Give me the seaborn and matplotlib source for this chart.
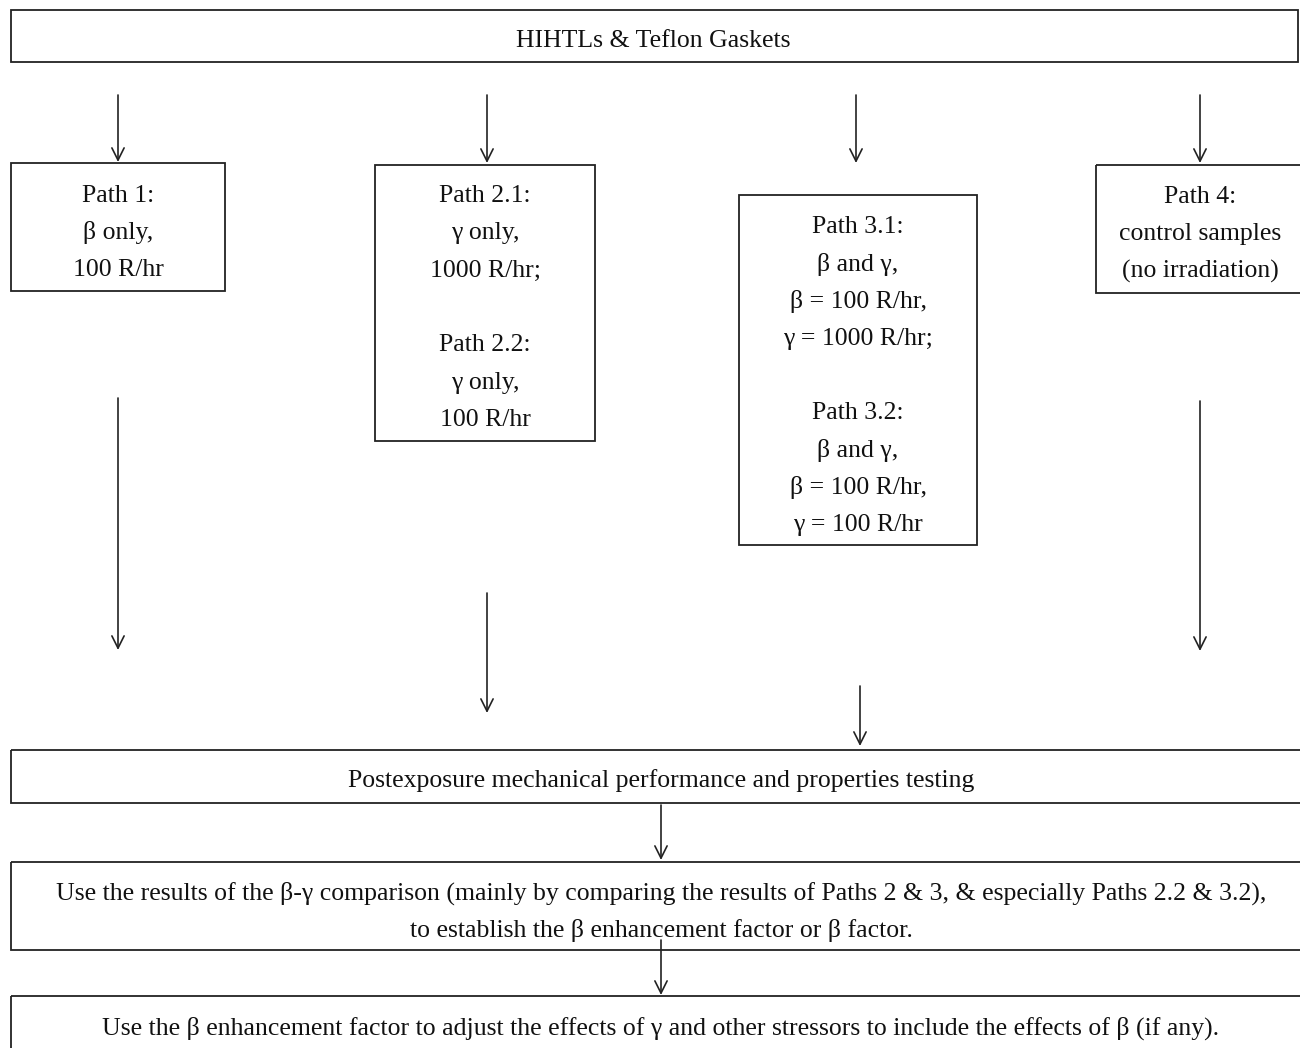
import numpy as np
import seaborn as sns
import matplotlib
matplotlib.use('Agg')
import matplotlib.pyplot as plt
from matplotlib.patches import Rectangle

# box texts (one entry per line, '' = blank line)
top_text = ['HIHTLs & Teflon Gaskets']
path1_text = ['Path 1:', 'β only,', '100 R/hr']
path2_text = ['Path 2.1:', 'γ only,', '1000 R/hr;', '', 'Path 2.2:', 'γ only,', '100 R/hr']
path3_text = ['Path 3.1:', 'β and γ,', 'β = 100 R/hr,', 'γ = 1000 R/hr;', '',
              'Path 3.2:', 'β and γ,', 'β = 100 R/hr,', 'γ = 100 R/hr']
path4_text = ['Path 4:', 'control samples', '(no irradiation)']
test_text = ['Postexposure mechanical performance and properties testing']
compare_text = ['Use the results of the β-γ comparison (mainly by comparing the results of Paths 2 & 3, & especially Paths 2.2 & 3.2),',
                'to establish the β enhancement factor or β factor.']
adjust_text = ['Use the β enhancement factor to adjust the effects of γ and other stressors to include the effects of β (if any).']

# layout in pixels: (x0, y0, x1, y1)
boxes = [
    (11, 10, 1298, 62, top_text),
    (11, 163, 225, 291, path1_text),
    (375, 165, 595, 441, path2_text),
    (739, 195, 977, 545, path3_text),
    (1096, 165, 1306, 293, path4_text),
    (11, 750, 1306, 803, test_text),
    (11, 862, 1306, 950, compare_text),
    (11, 996, 1306, 1060, adjust_text),
]
text_x = [653, 118, 485, 858, 1200, 661, 661, 661]
text_y = [41, 233, 308, 376, 234, 781, 912, 1028]
line_step = 37.3

# arrows: (x, y_start, y_end)
arrows = [
    (118, 95, 162), (487, 95, 163), (856, 95, 163), (1200, 95, 163),
    (118, 398, 650), (487, 593, 713), (860, 686, 746), (1200, 401, 651),
    (661, 805, 860), (661, 940, 995),
]

sns.set_theme(style='white')
plt.rcParams['font.family'] = ['Liberation Serif', 'DejaVu Serif']

fig = plt.figure(figsize=(13, 10.48), dpi=100)
ax = fig.add_axes([0, 0, 1, 1])
ax.set_xlim(0, 1300)
ax.set_ylim(1048, 0)
ax.axis('off')

for (x0, y0, x1, y1, lines), tx, ty in zip(boxes, text_x, text_y):
    ax.add_patch(Rectangle((x0, y0), x1 - x0, y1 - y0, fill=False,
                           edgecolor='#222222', linewidth=1.3))
    n = len(lines)
    for i, line in enumerate(lines):
        y = ty + (i - (n - 1) / 2) * line_step
        ax.text(tx, y, line, ha='center', va='center', fontsize=18.5, color='#111111')

for x, ys, ye in arrows:
    ax.annotate('', xy=(x, ye), xytext=(x, ys),
                arrowprops=dict(arrowstyle='->', color='#222222', lw=1.2,
                                mutation_scale=22, shrinkA=0, shrinkB=0))

fig.savefig('out.png', dpi=100, facecolor='white')
